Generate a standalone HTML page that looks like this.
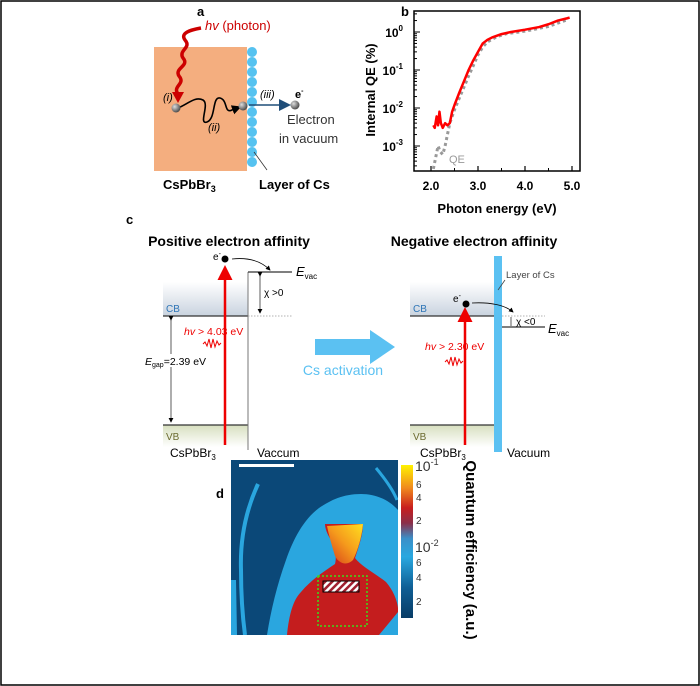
<!DOCTYPE html>
<html><head><meta charset="utf-8"><style>
html,body{margin:0;padding:0;background:#fff}
svg{display:block;font-family:"Liberation Sans",Arial,sans-serif}
</style></head><body>
<svg width="700" height="686" viewBox="0 0 700 686">
<defs>
<linearGradient id="cbg" x1="0" y1="0" x2="0" y2="1"><stop offset="0" stop-color="#fff"/><stop offset="1" stop-color="#c9d3df"/></linearGradient>
<linearGradient id="vbg" x1="0" y1="0" x2="0" y2="1"><stop offset="0" stop-color="#d7dfbf"/><stop offset="1" stop-color="#fff"/></linearGradient>
<linearGradient id="cbar" x1="0" y1="1" x2="0" y2="0"><stop offset="0" stop-color="#083c66"/><stop offset="0.2" stop-color="#0f5f95"/><stop offset="0.4" stop-color="#29a8e0"/><stop offset="0.52" stop-color="#3b8fc8"/><stop offset="0.62" stop-color="#8a2f4a"/><stop offset="0.72" stop-color="#c81e1e"/><stop offset="0.85" stop-color="#f08a1e"/><stop offset="1" stop-color="#fff200"/></linearGradient>
<radialGradient id="ball" cx="0.35" cy="0.35" r="0.7"><stop offset="0" stop-color="#ddd"/><stop offset="1" stop-color="#444"/></radialGradient>
<linearGradient id="head" x1="1" y1="0" x2="0" y2="1"><stop offset="0" stop-color="#ffe020"/><stop offset="0.5" stop-color="#f59a1c"/><stop offset="1" stop-color="#d63a1a"/></linearGradient>
<pattern id="hatch" width="5" height="5" patternUnits="userSpaceOnUse" patternTransform="rotate(45)"><rect width="5" height="5" fill="#fff"/><rect width="2.5" height="5" fill="#a02030"/></pattern>
<marker id="ah" markerWidth="8" markerHeight="8" refX="6" refY="4" orient="auto"><path d="M0,0 L8,4 L0,8 z" fill="#1f4e79"/></marker>
<marker id="ahk" markerWidth="6" markerHeight="6" refX="5" refY="3" orient="auto"><path d="M0,0 L6,3 L0,6 z" fill="#000"/></marker>
<marker id="ahr" markerWidth="6" markerHeight="6" refX="4" refY="3" orient="auto"><path d="M0,0 L6,3 L0,6 z" fill="#e00"/></marker>
</defs>
<rect x="1" y="1" width="698" height="684" fill="none" stroke="#000" stroke-width="1.5"/>

<g>
<text x="197" y="16" font-size="13" font-weight="bold">a</text>
<rect x="154" y="47" width="93" height="124" fill="#f4ae7f"/>
<g fill="#55c2f0">
<circle cx="252" cy="52" r="5"/><circle cx="252" cy="62" r="5"/><circle cx="252" cy="72" r="5"/><circle cx="252" cy="82" r="5"/><circle cx="252" cy="92" r="5"/><circle cx="252" cy="102" r="5"/><circle cx="252" cy="112" r="5"/><circle cx="252" cy="122" r="5"/><circle cx="252" cy="132" r="5"/><circle cx="252" cy="142" r="5"/><circle cx="252" cy="152" r="5"/><circle cx="252" cy="162" r="5"/></g>
<path d="M201,28 C190,30 180,33 185,40 C192,48 178,50 183,58 C190,66 174,68 179,76 C186,84 172,86 178,94" fill="none" stroke="#c00" stroke-width="3.5"/>
<path d="M172,92 L184,92 L178,103 z" fill="#c00"/>
<text x="205" y="30" font-size="13" fill="#c00"><tspan font-style="italic">hv</tspan> (photon)</text>
<path d="M178,108 C188,104 195,96 203,100 C210,104 198,125 207,122 C216,119 212,96 220,98 C228,100 224,114 232,110 L240,107" fill="none" stroke="#000" stroke-width="1.6" marker-end="url(#ahk)"/>
<circle cx="176" cy="108" r="4.5" fill="url(#ball)"/><circle cx="243" cy="106" r="4.5" fill="url(#ball)"/><circle cx="295" cy="105" r="4.5" fill="url(#ball)"/>
<line x1="249" y1="105" x2="288" y2="105" stroke="#1f4e79" stroke-width="1.5" marker-end="url(#ah)"/>
<text x="163" y="101" font-size="11" font-style="italic">(i)</text>
<text x="208" y="131" font-size="11" font-style="italic">(ii)</text>
<text x="260" y="98" font-size="11" font-style="italic">(iii)</text>
<text x="295" y="98" font-size="11" font-weight="bold">e<tspan font-size="7" dy="-5">-</tspan></text>
<text x="287" y="124" font-size="13" fill="#333">Electron</text>
<text x="279" y="143" font-size="13" fill="#333">in vacuum</text>
<line x1="254" y1="152" x2="267" y2="170" stroke="#333" stroke-width="0.8"/>
<text x="163" y="189" font-size="13" font-weight="bold">CsPbBr<tspan font-size="9" dy="3">3</tspan></text>
<text x="259" y="189" font-size="13" font-weight="bold">Layer of Cs</text>
</g>

<g>
<text x="401" y="16" font-size="13" font-weight="bold">b</text>
<text transform="translate(375,90) rotate(-90)" text-anchor="middle" font-size="13" font-weight="bold">Internal QE (%)</text>
<text x="497" y="213" text-anchor="middle" font-size="13" font-weight="bold">Photon energy (eV)</text>
<g id="bAxes"></g>
<g id="bSeries"></g>
<text x="449" y="163" font-size="11" fill="#999">QE</text>
</g>

<g>
<text x="126" y="224" font-size="13" font-weight="bold">c</text>
<text x="229" y="246" text-anchor="middle" font-size="14" font-weight="bold">Positive electron affinity</text>
<rect x="163" y="282" width="85" height="34" fill="url(#cbg)"/>
<line x1="163" y1="316" x2="248" y2="316" stroke="#333" stroke-width="1.2"/>
<text x="166" y="312" font-size="10" fill="#2e75b6">CB</text>
<rect x="163" y="425" width="85" height="22" fill="url(#vbg)"/>
<line x1="163" y1="425" x2="248" y2="425" stroke="#333" stroke-width="1.2"/>
<text x="166" y="440" font-size="10" fill="#6b6b2f">VB</text>
<line x1="248" y1="272" x2="248" y2="450" stroke="#777" stroke-width="1"/>
<line x1="248" y1="272" x2="292" y2="272" stroke="#333" stroke-width="1.2"/>
<text x="296" y="276" font-size="13" font-style="italic">E<tspan font-size="8" dy="3" font-style="normal">vac</tspan></text>
<line x1="248" y1="316" x2="293" y2="316" stroke="#999" stroke-width="0.8" stroke-dasharray="1.5,1.5"/>
<line x1="260" y1="276" x2="260" y2="313" stroke="#333" stroke-width="0.8" marker-start="url(#ahk)" marker-end="url(#ahk)"/>
<text x="264" y="296" font-size="10">χ &gt;0</text>
<line x1="225" y1="445" x2="225" y2="270" stroke="#e00" stroke-width="2.5" marker-end="url(#ahr)"/>
<circle cx="225" cy="259" r="3.5" fill="#000"/>
<text x="213" y="260" font-size="10">e<tspan font-size="7" dy="-4">-</tspan></text>
<path d="M232,259 C250,257 262,262 270,270" fill="none" stroke="#000" stroke-width="0.8" marker-end="url(#ahk)"/>
<text x="184" y="335" font-size="10.5" fill="#e00"><tspan font-style="italic">hv</tspan> &gt; 4.03 eV</text>
<path d="M203,344 l2,-2 l2,4 l2,-7 l2,9 l2,-9 l2,8 l2,-6 l2,4 l2,-2" fill="none" stroke="#e00" stroke-width="1"/>
<line x1="171" y1="320" x2="171" y2="422" stroke="#333" stroke-width="0.8" marker-start="url(#ahk)" marker-end="url(#ahk)"/>
<rect x="144" y="354" width="60" height="13" fill="#fff"/>
<text x="145" y="365" font-size="10.5"><tspan font-style="italic">E</tspan><tspan font-size="7" dy="2">gap</tspan><tspan dy="-2">=2.39 eV</tspan></text>
<text x="170" y="457" font-size="12">CsPbBr<tspan font-size="8" dy="3">3</tspan></text>
<text x="257" y="457" font-size="12">Vaccum</text>
<path d="M315,339 L370,339 L370,330 L395,347 L370,364 L370,355 L315,355 z" fill="#5bc1f2"/>
<text x="343" y="375" text-anchor="middle" font-size="14" fill="#5bc1f2">Cs activation</text>

<text x="474" y="246" text-anchor="middle" font-size="14" font-weight="bold">Negative electron affinity</text>
<rect x="410" y="282" width="84" height="34" fill="url(#cbg)"/>
<line x1="410" y1="316" x2="494" y2="316" stroke="#333" stroke-width="1.2"/>
<text x="413" y="312" font-size="10" fill="#2e75b6">CB</text>
<rect x="410" y="425" width="84" height="22" fill="url(#vbg)"/>
<line x1="410" y1="425" x2="494" y2="425" stroke="#333" stroke-width="1.2"/>
<text x="413" y="440" font-size="10" fill="#6b6b2f">VB</text>
<rect x="494" y="256" width="8" height="196" fill="#5bc1f2"/>
<line x1="502" y1="316" x2="545" y2="316" stroke="#999" stroke-width="0.8" stroke-dasharray="1.5,1.5"/>
<line x1="502" y1="327" x2="545" y2="327" stroke="#333" stroke-width="1.2"/>
<text x="548" y="333" font-size="13" font-style="italic">E<tspan font-size="8" dy="3" font-style="normal">vac</tspan></text>
<line x1="511" y1="317" x2="511" y2="326" stroke="#333" stroke-width="0.8"/>
<text x="516" y="325" font-size="10">χ &lt;0</text>
<text x="506" y="278" font-size="9.5" fill="#444">Layer of Cs</text>
<line x1="505" y1="280" x2="498" y2="290" stroke="#444" stroke-width="0.8"/>
<line x1="465" y1="445" x2="465" y2="312" stroke="#e00" stroke-width="2.5" marker-end="url(#ahr)"/>
<circle cx="466" cy="304" r="3.5" fill="#000"/>
<text x="453" y="302" font-size="10">e<tspan font-size="7" dy="-4">-</tspan></text>
<path d="M472,303 C490,302 505,305 513,312" fill="none" stroke="#000" stroke-width="0.8" marker-end="url(#ahk)"/>
<text x="425" y="350" font-size="10.5" fill="#e00"><tspan font-style="italic">hv</tspan> &gt; 2.30 eV</text>
<path d="M445,362 l2,-2 l2,4 l2,-7 l2,9 l2,-9 l2,8 l2,-6 l2,4 l2,-2" fill="none" stroke="#e00" stroke-width="1"/>
<text x="420" y="457" font-size="12">CsPbBr<tspan font-size="8" dy="3">3</tspan></text>
<text x="507" y="457" font-size="12">Vacuum</text>
</g>

<g>
<text x="216" y="498" font-size="13" font-weight="bold">d</text>
<svg x="231" y="460" width="167" height="175" viewBox="0 0 167 175">
<rect width="167" height="175" fill="#0b4878"/>
<path d="M36,175 C40,150 46,125 55,100 C62,80 72,60 88,48 C100,40 112,34 130,34 C145,34 158,40 167,50 L167,175 z" fill="#2aa6df"/>
<path d="M27,24 C15,50 9,80 10,110 C10,140 12,160 14,175" fill="none" stroke="#2aa6df" stroke-width="4"/>
<path d="M145,8 C155,20 162,30 166,40" fill="none" stroke="#2aa6df" stroke-width="3"/>
<path d="M0,120 L5,120 L6,175 L0,175 z" fill="#2aa6df"/>
<path d="M56,175 C58,155 62,140 70,132 C80,120 92,112 104,104 C106,96 104,88 100,80 C96,74 94,68 94,64 L132,64 C132,74 128,86 124,98 C130,106 142,112 155,122 C162,130 166,140 167,148 L167,175 z" fill="#c41d1e"/>
<path d="M96,66 L132,64 C131,76 127,90 122,100 C116,106 108,104 104,96 C101,86 98,76 96,66 z" fill="url(#head)"/>
<path d="M148,175 L167,152 L167,175 z" fill="#2aa6df"/>
<rect x="8" y="4" width="55" height="3" fill="#fff"/>
</svg>
<rect x="318" y="576" width="49" height="50" fill="none" stroke="#3ddc1a" stroke-width="1.5" stroke-dasharray="2,2"/>
<rect x="323" y="581" width="36" height="11" fill="url(#hatch)" stroke="#000" stroke-width="1"/>
<rect x="401" y="465" width="12" height="153" fill="url(#cbar)"/>
<g font-size="10" fill="#333">
<text x="415" y="471" font-size="14">10<tspan font-size="9" dy="-6">-1</tspan></text>
<text x="416" y="488">6</text><text x="416" y="501">4</text><text x="416" y="524">2</text>
<text x="415" y="552" font-size="14">10<tspan font-size="9" dy="-6">-2</tspan></text>
<text x="416" y="566">6</text><text x="416" y="581">4</text><text x="416" y="605">2</text>
</g>
<text transform="translate(466,550) rotate(90)" text-anchor="middle" font-size="15" font-weight="bold">Quantum efficiency (a.u.)</text>
</g>
</svg>
<script>
const xTicks = [2.0, 3.0, 4.0, 5.0];
const xTickLabels = ["2.0", "3.0", "4.0", "5.0"];
const yDecades = [0, -1, -2, -3];
const iqeEnergy = [2.05,2.08,2.12,2.15,2.18,2.21,2.25,2.3,2.35,2.4,2.45,2.5,2.6,2.7,2.8,2.9,3.0,3.1,3.2,3.3,3.5,3.7,4.0,4.3,4.5,4.7,4.9,4.95];
const iqeValues = [0.0035,0.003,0.006,0.0035,0.008,0.004,0.003,0.004,0.0035,0.004,0.008,0.012,0.025,0.05,0.1,0.18,0.3,0.5,0.62,0.72,0.88,1.0,1.15,1.35,1.6,2.0,2.3,2.4];
const qeEnergy = [2.05,2.1,2.15,2.2,2.25,2.3,2.35,2.4,2.5,2.6,2.7,2.8,2.9,3.0,3.1,3.2,3.4,3.6,4.0,4.5,4.9];
const qeValues = [0.00025,0.0005,0.001,0.0007,0.0006,0.001,0.002,0.004,0.009,0.018,0.035,0.07,0.13,0.25,0.4,0.55,0.75,0.9,1.05,1.4,2.1];
(function(){
const NS="http://www.w3.org/2000/svg";
const L=414,R=580,T=11,B=171;
const xs=v=>431+(v-2)*47;
const ys=v=>32-Math.log10(v)*38;
const ax=document.getElementById('bAxes'), se=document.getElementById('bSeries');
function mk(tag,attrs,parent){const e=document.createElementNS(NS,tag);for(const k in attrs)e.setAttribute(k,attrs[k]);parent.appendChild(e);return e;}
const frame=mk('rect',{x:L,y:T,width:R-L,height:B-T,fill:'none',stroke:'#000','stroke-width':1.5},ax);


xTicks.forEach((v,i)=>{
 mk('line',{x1:xs(v),x2:xs(v),y1:B,y2:B-5,stroke:'#000','stroke-width':1.2},ax);
 if(v<5) mk('line',{x1:xs(v+0.5),x2:xs(v+0.5),y1:B,y2:B-3,stroke:'#000'},ax);
 const t=mk('text',{x:xs(v),y:B+19,'text-anchor':'middle','font-size':12,'font-weight':'bold'},ax);
 t.textContent=xTickLabels[i];
 
 
});
for(let d=-4;d<=0;d++){for(let m=1;m<10;m++){const v=m*Math.pow(10,d);const y=ys(v);if(y<T||y>B)continue;
 mk('line',{x1:L,x2:L+(m==1?6:3),y1:y,y2:y,stroke:'#000','stroke-width':1},ax);}}
yDecades.forEach(d=>{
 const t=mk('text',{x:L-11,y:ys(Math.pow(10,d))+5,'text-anchor':'end','font-size':12,'font-weight':'bold'},ax);
 t.appendChild(document.createTextNode('10'));
 const sp=mk('tspan',{'font-size':8,dy:-6},t);
 sp.textContent=String(d);
 
 
});
const q=mk('polyline',{points:qeEnergy.map((e,i)=>xs(e)+','+ys(qeValues[i])).join(' '),fill:'none',stroke:'#999','stroke-width':3,'stroke-dasharray':'3,3'},se);


const r=mk('polyline',{points:iqeEnergy.map((e,i)=>xs(e)+','+ys(iqeValues[i])).join(' '),fill:'none',stroke:'#f00','stroke-width':2.5,'stroke-linejoin':'round'},se);


})();
</script>
</body></html>
